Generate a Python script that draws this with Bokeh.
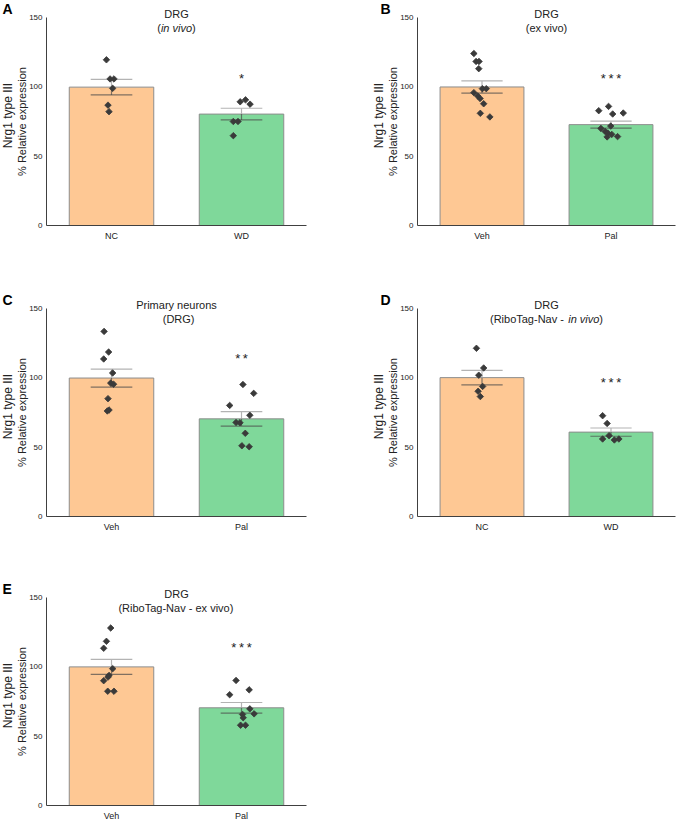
import numpy as np
from bokeh.plotting import figure
from bokeh.models import Range1d, FixedTicker, Label, ColumnDataSource
from bokeh.layouts import gridplot
from bokeh.core.properties import value
from bokeh.embed import file_html
from bokeh.resources import INLINE

# ---------------- data ----------------
A_groups = ["NC", "WD"]
A_ctrl = [119.5, 105.7, 105.7, 98.9, 86.8, 82.1]
A_trt = [89.2, 90.6, 87.5, 75.0, 75.0, 64.8]
A_stars = "*"
A_star_y = 105.7

B_groups = ["Veh", "Pal"]
B_ctrl = [124.0, 118.3, 118.3, 113.1, 98.7, 98.7, 95.8, 93.4, 91.6, 87.8, 80.9, 78.3]
B_trt = [82.8, 85.9, 80.4, 81.1, 70.0, 71.7, 67.8, 66.7, 65.7, 63.9, 64.1]
B_stars = "*\u2009*\u2009*"
B_star_y = 105.7

C_groups = ["Veh", "Pal"]
C_ctrl = [133.5, 118.6, 113.6, 103.5, 96.2, 95.4, 85.0, 76.1, 76.8]
C_trt = [95.2, 88.8, 80.1, 73.0, 67.8, 67.6, 60.0, 51.0, 50.3]
C_stars = "*\u2009*"
C_star_y = 114.1

D_groups = ["NC", "WD"]
D_ctrl = [121.3, 107.1, 101.9, 93.8, 90.3, 86.5]
D_trt = [72.7, 67.1, 58.3, 55.9, 55.2, 55.9]
D_stars = "*\u2009*\u2009*"
D_star_y = 96.4

E_groups = ["Veh", "Pal"]
E_ctrl = [128.0, 118.4, 113.4, 98.7, 93.8, 92.6, 90.0, 82.4, 82.4]
E_trt = [90.2, 83.4, 79.9, 69.7, 66.1, 65.7, 63.3, 57.9, 57.9]
E_stars = "*\u2009*\u2009*"
E_star_y = 113.9

y_ticks = [0, 50, 100, 150]
y_max = 150

# horizontal scatter offsets of the points inside each category (layout, not data)
A_ctrl_off = [-0.039, -0.011, 0.019, 0.009, -0.027, -0.019]
A_trt_off = [-0.010, 0.031, 0.066, -0.063, -0.027, -0.063]
B_ctrl_off = [-0.063, -0.046, -0.023, -0.025, 0.003, 0.033, -0.063, -0.033, -0.015, 0.013, -0.013, 0.061]
B_trt_off = [-0.095, -0.019, 0.013, 0.095, -0.078, -0.002, -0.045, -0.025, 0.006, -0.030, 0.051]
C_ctrl_off = [-0.057, -0.022, -0.060, 0.009, -0.006, 0.016, -0.027, -0.032, -0.019]
C_trt_off = [0.011, 0.094, -0.091, 0.064, -0.042, -0.012, 0.029, 0.003, 0.059]
D_ctrl_off = [-0.043, 0.013, -0.025, 0.005, -0.030, -0.013]
D_trt_off = [-0.065, -0.030, -0.015, -0.065, 0.026, 0.061]
E_ctrl_off = [-0.006, -0.039, -0.060, 0.009, -0.019, -0.027, -0.060, -0.029, 0.019]
E_trt_off = [-0.042, 0.059, -0.091, 0.064, 0.097, 0.008, 0.013, -0.007, 0.031]

# ---------------- styles ----------------
FONT = "Liberation Sans"
BAR_COLORS = ["#FEC894", "#7FD89A"]
BAR_LINE = "#8c8c8c"
ERR_UP = "#b3b3b3"
ERR_LOW = "#4a4a4a"
PT_COLOR = "#3a3a3a"
AX_COLOR = "#404040"
TXT = "#222222"

ARIAL_W = {"(": 333, ")": 333, "R": 722, "i": 222, "b": 556, "o": 556, "T": 611,
           "a": 556, "g": 556, "-": 333, "N": 722, "v": 500, " ": 278, "n": 556,
           "e": 556, "x": 500}


def text_w(s, size):
    return sum(ARIAL_W.get(c, 556) for c in s) * size / 1000.0


FH = 208  # pixel height of the 0..150 span


def make_panel(letter, title, sub, groups, ctrl, ctrl_off, trt, trt_off,
               stars, star_y, col, fig_h, top):
    if col == 0:
        fig_w, L, DW, letter_dx = 371, 46, 260, -44
    else:
        fig_w, L, DW, letter_dx = 306, 46, 258, -37
    ncat = len(groups)
    # ranges chosen so that the data area sits at the wanted pixels of the frame
    x0 = -L / DW * ncat
    x1 = (fig_w - L) / DW * ncat
    y0 = -(fig_h - top - FH) / FH * y_max
    y1 = y_max + top / FH * y_max

    p = figure(x_range=Range1d(x0, x1), y_range=Range1d(y0, y1),
               width=fig_w, height=fig_h, output_backend="svg",
               toolbar_location=None, min_border=0, min_border_left=0,
               min_border_right=0, min_border_top=0, min_border_bottom=0,
               background_fill_color="white", border_fill_color="white")
    p.outline_line_color = None
    p.xgrid.grid_line_color = None
    p.ygrid.grid_line_color = None

    centers = np.arange(ncat) + 0.5

    for ax in (p.xaxis[0], p.yaxis[0]):
        ax.axis_line_color = AX_COLOR
        ax.axis_line_width = 1
        ax.major_tick_line_color = None
        ax.minor_tick_line_color = None
        ax.major_tick_in = 0
        ax.major_tick_out = 0
        ax.minor_tick_in = 0
        ax.minor_tick_out = 0
        ax.major_label_text_font = FONT
        ax.major_label_text_color = TXT
        ax.fixed_location = 0
    p.yaxis.bounds = (0, y_max)
    p.yaxis.ticker = FixedTicker(ticks=y_ticks)
    p.yaxis.major_label_text_font_size = "8px"
    p.yaxis.major_label_standoff = 4
    p.xaxis.bounds = (0, ncat)
    p.xaxis.ticker = FixedTicker(ticks=list(centers))
    p.xaxis.major_label_overrides = {float(c): g for c, g in zip(centers, groups)}
    p.xaxis.major_label_text_font_size = "9px"
    p.xaxis.major_label_standoff = 5

    sets = [ctrl, trt]
    offs = [ctrl_off, trt_off]
    means = [float(np.mean(v)) for v in sets]
    sems = [float(np.std(v, ddof=1) / np.sqrt(len(v))) for v in sets]

    bars = ColumnDataSource(dict(x=centers, top=means, color=BAR_COLORS))
    p.vbar(x="x", top="top", width=0.65, source=bars, fill_color="color",
           line_color=BAR_LINE, line_width=1)

    cw = 0.16
    up = dict(x0=[], y0=[], x1=[], y1=[])
    lo = dict(x0=[], y0=[], x1=[], y1=[])
    for c, m, s in zip(centers, means, sems):
        up["x0"] += [c, c - cw]
        up["x1"] += [c, c + cw]
        up["y0"] += [m, m + s]
        up["y1"] += [m + s, m + s]
        lo["x0"] += [c, c - cw]
        lo["x1"] += [c, c + cw]
        lo["y0"] += [m - s, m - s]
        lo["y1"] += [m, m - s]
    p.segment(x0="x0", y0="y0", x1="x1", y1="y1", source=ColumnDataSource(up),
              line_color=ERR_UP, line_width=1.2)
    p.segment(x0="x0", y0="y0", x1="x1", y1="y1", source=ColumnDataSource(lo),
              line_color=ERR_LOW, line_alpha=0.7, line_width=1.2)

    px, py = [], []
    for c, v, o in zip(centers, sets, offs):
        px += [c + d for d in o]
        py += list(v)
    p.scatter(x=px, y=py, marker="square", angle=np.pi / 4, size=4.6,
              fill_color=PT_COLOR, line_color=PT_COLOR, line_width=0.8)

    p.text(x=[centers[1]], y=[star_y], text=[stars], text_font=value(FONT),
           text_font_size="13px", text_color=TXT, text_align="center",
           text_baseline="middle")

    top_sy = fig_h - top  # screen y (from frame bottom) of the 150 line
    mid_x = ncat / 2.0
    # panel letter
    p.add_layout(Label(x=L + letter_dx, y=top_sy + 9, x_units="screen", y_units="screen",
                       text=letter, text_font=FONT, text_font_size="14px",
                       text_font_style="bold", text_color="#000000",
                       text_align="left", text_baseline="middle"))
    # title
    p.add_layout(Label(x=mid_x, y=top_sy + 4, y_units="screen", text=title,
                       text_font=FONT, text_font_size="11px", text_color=TXT,
                       text_align="center", text_baseline="middle"))
    # subtitle (possibly mixed italic)
    total = sum(text_w(t, 11) for t, _ in sub)
    cur = -total / 2.0
    for t, style in sub:
        p.add_layout(Label(x=mid_x, x_offset=cur, y=top_sy - 10, y_units="screen",
                           text=t, text_font=FONT, text_font_size="11px",
                           text_font_style=style, text_color=TXT,
                           text_align="left", text_baseline="middle"))
        cur += text_w(t, 11)
    # y axis label (two lines)
    for dx, dy, fs, t in ((-39, 6, "12px", "Nrg1 type III"),
                          (-25, 0, "11px", "% Relative expression")):
        p.add_layout(Label(x=L + dx, y=top_sy - FH / 2 + dy, x_units="screen", y_units="screen",
                           text=t, angle=np.pi / 2, text_font=FONT,
                           text_font_size=fs, text_color=TXT,
                           text_align="center", text_baseline="middle"))
    return p


pA = make_panel("A", "DRG", [("(", "normal"), ("in vivo", "italic"), (")", "normal")],
                A_groups, A_ctrl, A_ctrl_off, A_trt, A_trt_off, A_stars, A_star_y, 0, 291, 17)
pB = make_panel("B", "DRG", [("(ex vivo)", "normal")],
                B_groups, B_ctrl, B_ctrl_off, B_trt, B_trt_off, B_stars, B_star_y, 1, 291, 17)
pC = make_panel("C", "Primary neurons", [("(DRG)", "normal")],
                C_groups, C_ctrl, C_ctrl_off, C_trt, C_trt_off, C_stars, C_star_y, 0, 291, 17)
pD = make_panel("D", "DRG", [("(RiboTag-Nav - ", "normal"), ("in vivo", "italic"), (")", "normal")],
                D_groups, D_ctrl, D_ctrl_off, D_trt, D_trt_off, D_stars, D_star_y, 1, 291, 17)
pE = make_panel("E", "DRG", [("(RiboTag-Nav - ex vivo)", "normal")],
                E_groups, E_ctrl, E_ctrl_off, E_trt, E_trt_off, E_stars, E_star_y, 0, 239, 15)

p = gridplot([[pA, pB], [pC, pD], [pE, None]], toolbar_location=None)

open("out.html", "w").write(file_html(p, INLINE))
